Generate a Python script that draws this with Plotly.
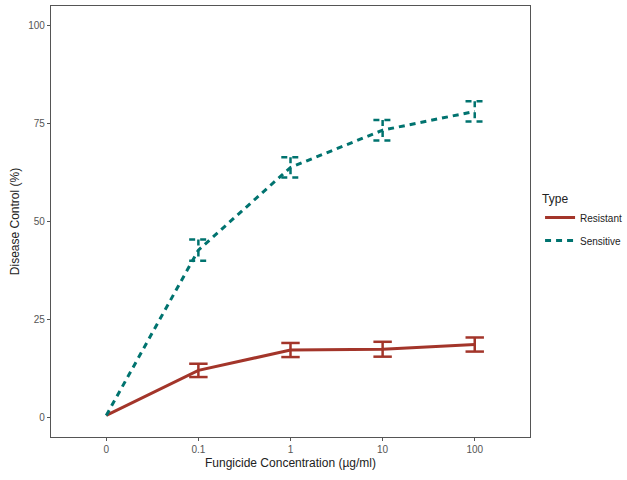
import plotly.graph_objects as go

concentrations = ["0", "0.1", "1", "10", "100"]
resistant_mean = [0.5, 12.0, 17.2, 17.4, 18.6]
resistant_err = [0.0, 1.7, 1.8, 1.9, 1.8]
sensitive_mean = [0.5, 42.7, 63.8, 73.3, 78.1]
sensitive_err = [0.0, 2.7, 2.6, 2.6, 2.6]
y_ticks = [0, 25, 50, 75, 100]

RES_COL = "#A3352A"
SEN_COL = "#00736F"
CAP = 0.1  # half width of error bar caps in x units


def errorbar_segments(means, errs):
    xs, ys = [], []
    for i, (m, e) in enumerate(zip(means, errs)):
        if e <= 0:
            continue
        lo, hi = m - e, m + e
        xs += [i - CAP, i + CAP, None, i, i, None, i - CAP, i + CAP, None]
        ys += [hi, hi, None, hi, lo, None, lo, lo, None]
    return xs, ys


xpos = list(range(len(concentrations)))

fig = go.Figure()
series = [
    ("Resistant", resistant_mean, resistant_err, RES_COL, "solid"),
    ("Sensitive", sensitive_mean, sensitive_err, SEN_COL, "6px,5px"),
]
for name, means, errs, col, dash in series:
    ex, ey = errorbar_segments(means, errs)
    fig.add_trace(go.Scatter(
        x=ex, y=ey, mode="lines", showlegend=False, hoverinfo="skip",
        line=dict(color=col, width=2.5, dash=dash), legendgroup=name,
    ))
    fig.add_trace(go.Scatter(
        x=xpos, y=means, name=name, mode="lines", legendgroup=name,
        line=dict(color=col, width=3, dash=dash),
    ))

axis_common = dict(
    showline=True, mirror=True, linecolor="#555555", linewidth=1.2,
    ticks="outside", ticklen=3, tickcolor="#555555",
    tickfont=dict(family="Liberation Sans, Arial", size=10, color="#555555"),
    showgrid=False, zeroline=False, automargin=False,
)

fig.update_layout(
    width=627, height=480, autosize=False,
    paper_bgcolor="white", plot_bgcolor="white",
    margin=dict(l=51, r=97, t=6, b=43, autoexpand=False),
    font=dict(family="Liberation Sans, Arial", color="#222222"),
    xaxis=dict(range=[-0.6, 4.6], tickvals=xpos, ticktext=concentrations,
               title=dict(text="Fungicide Concentration (µg/ml)", font=dict(size=12), standoff=4),
               **axis_common),
    yaxis=dict(range=[-5, 105], tickvals=y_ticks,
               title=dict(text="Disease Control (%)", font=dict(size=12), standoff=6),
               **axis_common),
    legend=dict(
        title=dict(text="Type", font=dict(size=12)),
        font=dict(size=10), x=1.021, xanchor="left", y=0.50, yanchor="middle",
        itemwidth=30, tracegroupgap=4,
    ),
)

fig.write_html(
    "out.html",
    config={"displayModeBar": False, "responsive": False},
    post_script=(
        "document.body.style.margin='0';"
        "document.body.style.overflow='hidden';"
        "Plotly.relayout('{plot_id}', {width: 627, height: 480});"
    ),
)
